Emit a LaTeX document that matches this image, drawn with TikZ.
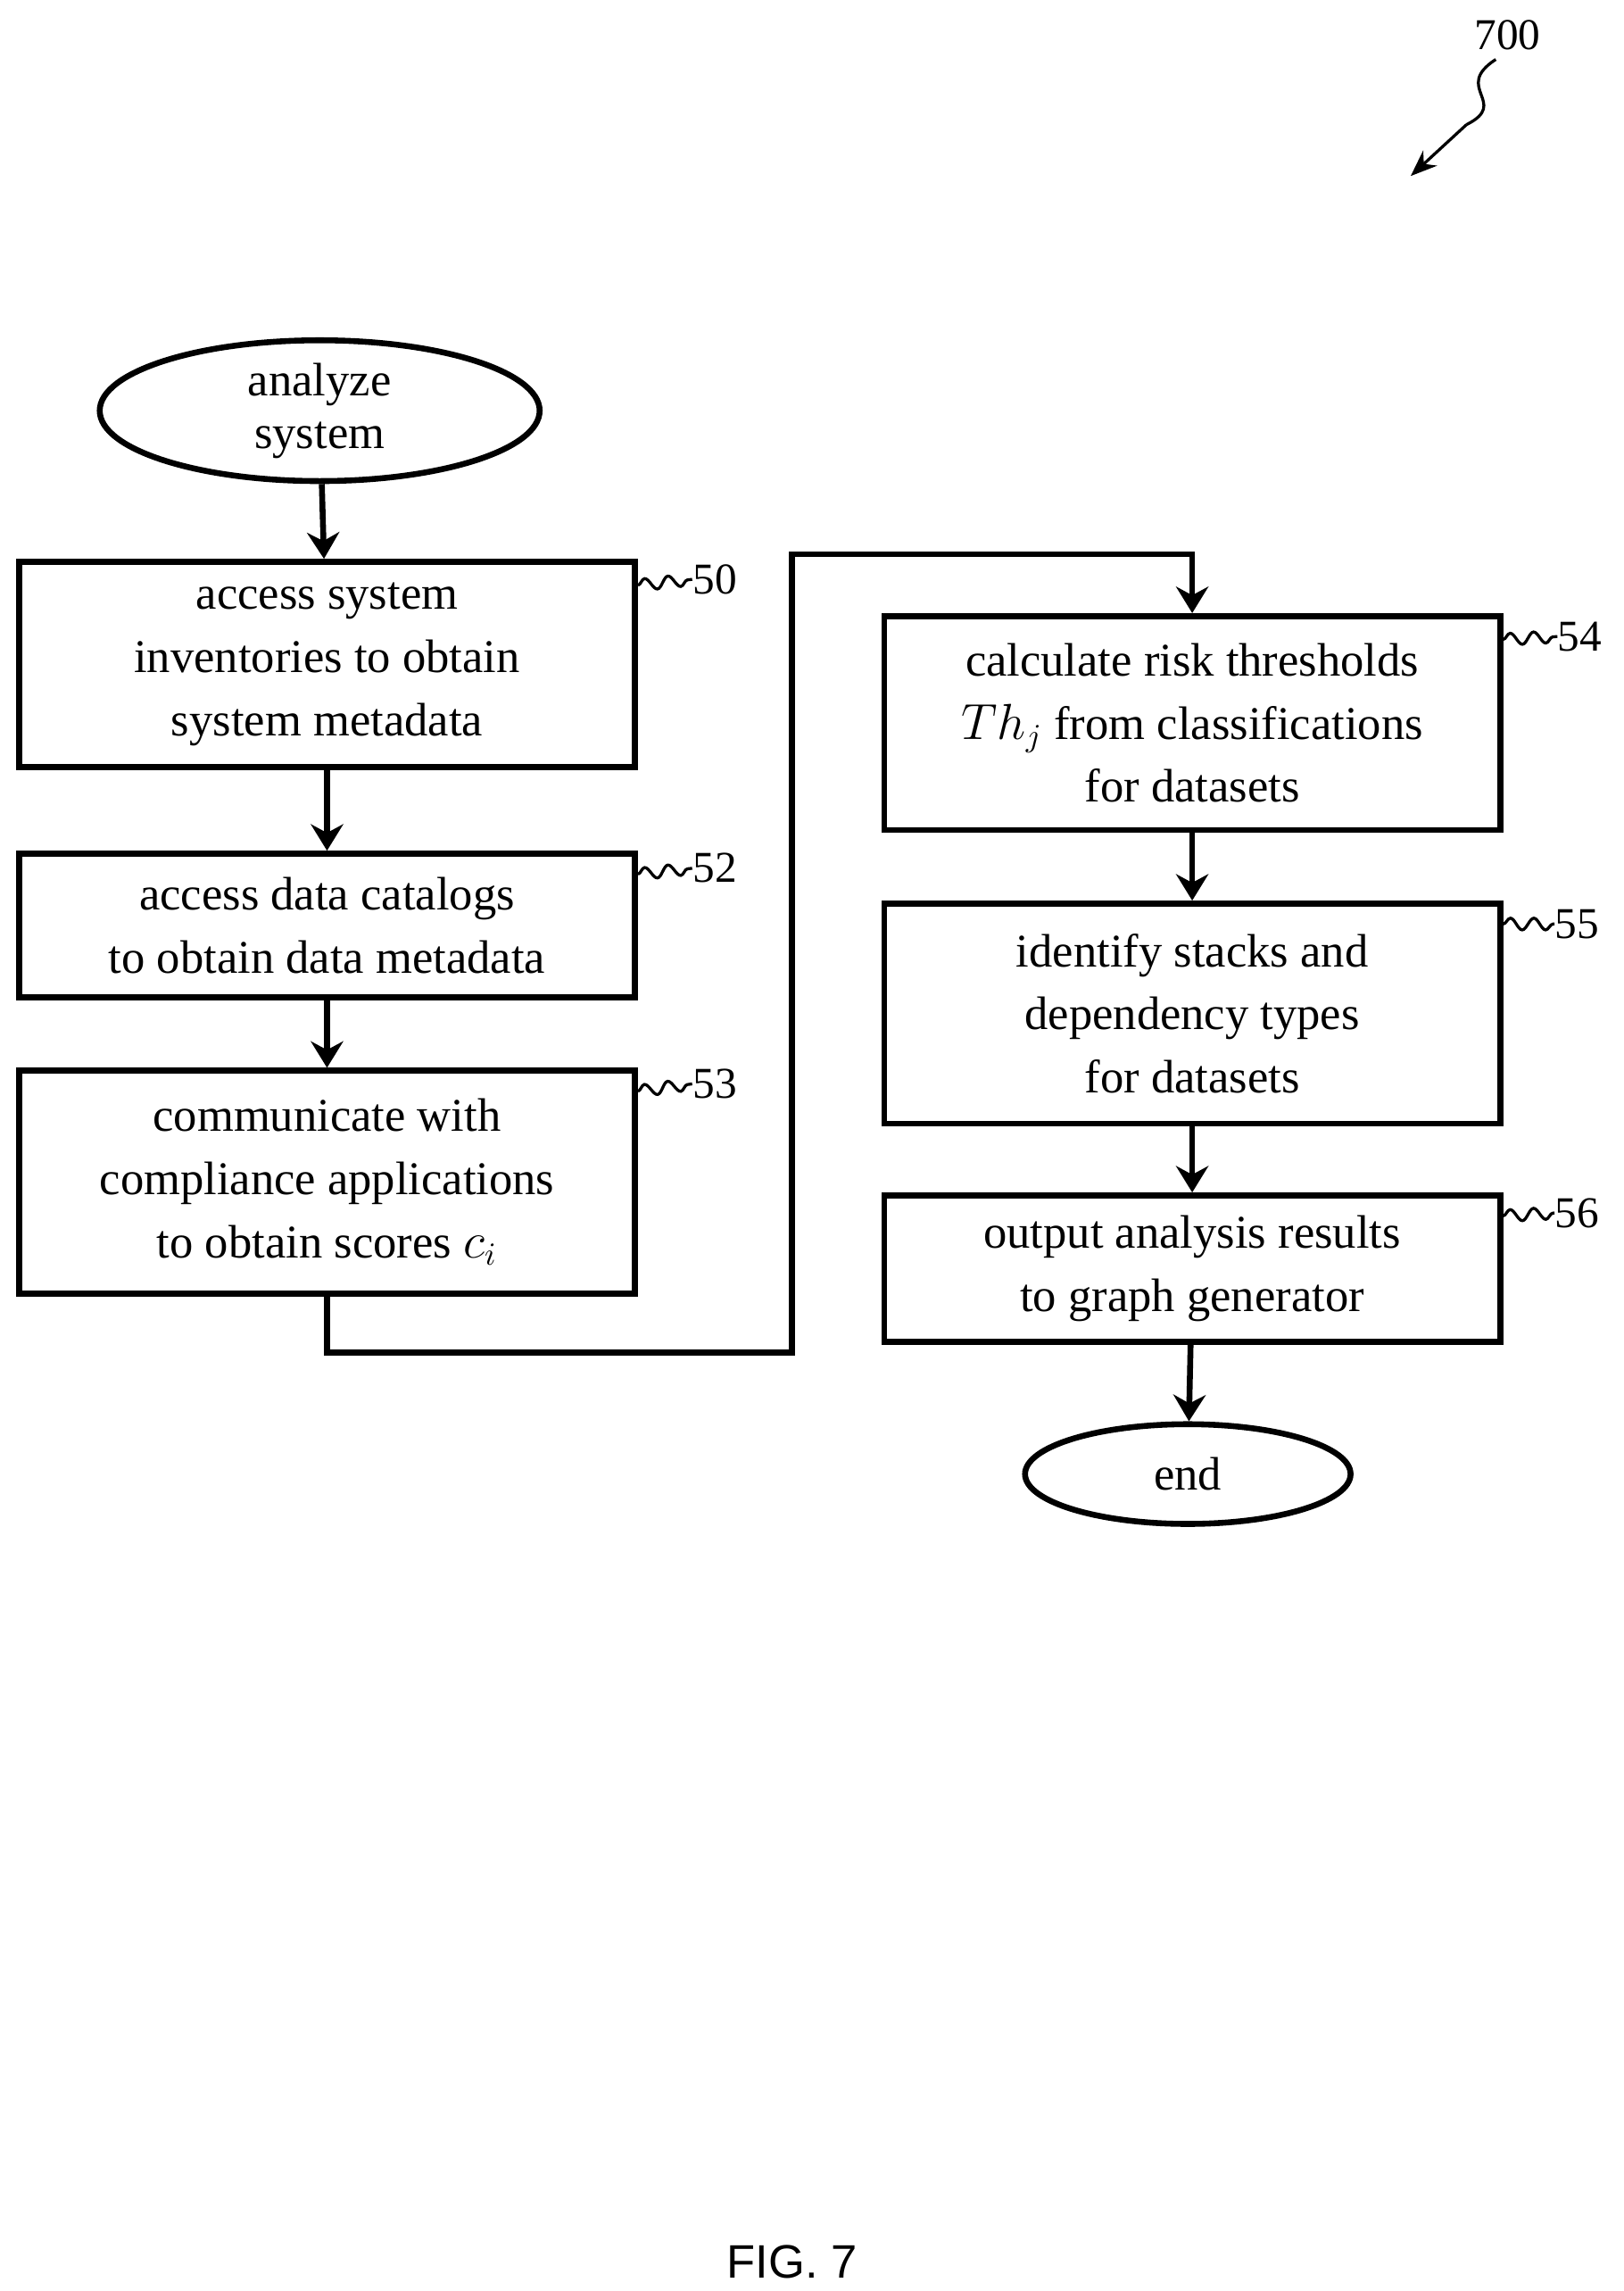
\documentclass[tikz,border=0pt]{standalone}
\usepackage{fontspec}
\setmainfont{Liberation Serif}
\newfontfamily\figfont{Liberation Sans}
\usetikzlibrary{shapes.geometric,arrows.meta,decorations.pathmorphing,positioning}
\tikzset{step box/.style={rectangle,draw,line width=2pt,minimum width=210pt,align=center,inner sep=2pt,font=\fontsize{16}{21.5}\selectfont},
         term/.style={ellipse,draw,line width=2pt,align=center,inner sep=0pt,font=\fontsize{16}{18}\selectfont},
         flow/.style={line width=2pt,-{Stealth[length=9pt,width=11pt]}},
         ref label/.style={font=\fontsize{15}{15}\selectfont,inner sep=0pt},
         squig/.style={line width=1pt,decorate,decoration={snake,amplitude=2pt,segment length=8pt}},
}
\begin{document}
\begin{tikzpicture}[x=0.5pt,y=-0.5pt]
\useasboundingbox (0,0) rectangle (1107,1562);
% start / end
\node[term,minimum width=150pt,minimum height=48pt] (start) at (218,280) {analyze\\system};
\node[term,minimum width=111pt,minimum height=34pt] (end) at (810,1005) {end};
% left column
\node[step box,minimum height=70pt] (s50) at (223,453) {access system\\inventories to obtain\\system metadata};
\node[step box,minimum height=49pt] (s52) at (223,631) {access data catalogs\\to obtain data metadata};
\node[step box,minimum height=76pt] (s53) at (223,806) {communicate with\\compliance applications\\to obtain scores $c_i$};
% right column
\node[step box,minimum height=73pt] (s54) at (813,493) {calculate risk thresholds\\$Th_j$ from classifications\\for datasets};
\node[step box,minimum height=75pt] (s55) at (813,691) {identify stacks and\\dependency types\\for datasets};
\node[step box,minimum height=50pt] (s56) at (813,865) {output analysis results\\to graph generator};
% connectors
\draw[flow] (start) -- (s50);
\draw[flow] (s50) -- (s52);
\draw[flow] (s52) -- (s53);
\draw[flow] (s53.south) |- (540,922) |- (813,378) -- (s54.north);
\draw[flow] (s54) -- (s55);
\draw[flow] (s55) -- (s56);
\draw[flow] (s56) -- (end);
% reference numerals
\node[ref label,anchor=west] (n50) at (472,395) {50};
\node[ref label,anchor=west] (n52) at (472,592) {52};
\node[ref label,anchor=west] (n53) at (472,739) {53};
\node[ref label,anchor=west] (n54) at (1062,434) {54};
\node[ref label,anchor=west] (n55) at (1060,630) {55};
\node[ref label,anchor=west] (n56) at (1060,827) {56};
\draw[squig] (s50.north east) ++(0,18) -- (n50.west);
\draw[squig] (s52.north east) ++(0,16) -- (n52.west);
\draw[squig] (s53.north east) ++(0,16) -- (n53.west);
\draw[squig] (s54.north east) ++(0,18) -- (n54.west);
\draw[squig] (s55.north east) ++(0,16) -- (n55.west);
\draw[squig] (s56.north east) ++(0,16) -- (n56.west);
% figure number
\node[ref label] (n700) at (1028,24) {700};
\coordinate (p700) at (962,120);
\draw[line width=1pt] (n700.south) ++(-8,6) .. controls (990,60) and (1030,70) .. (1000,85);
\draw[line width=1pt,-{Stealth[length=9pt,width=7pt]}] (1000,85) -- (p700);
\node[font=\figfont\fontsize{16}{16}\selectfont] (fig) at (540,1542) {FIG. 7};
\end{tikzpicture}
\end{document}
